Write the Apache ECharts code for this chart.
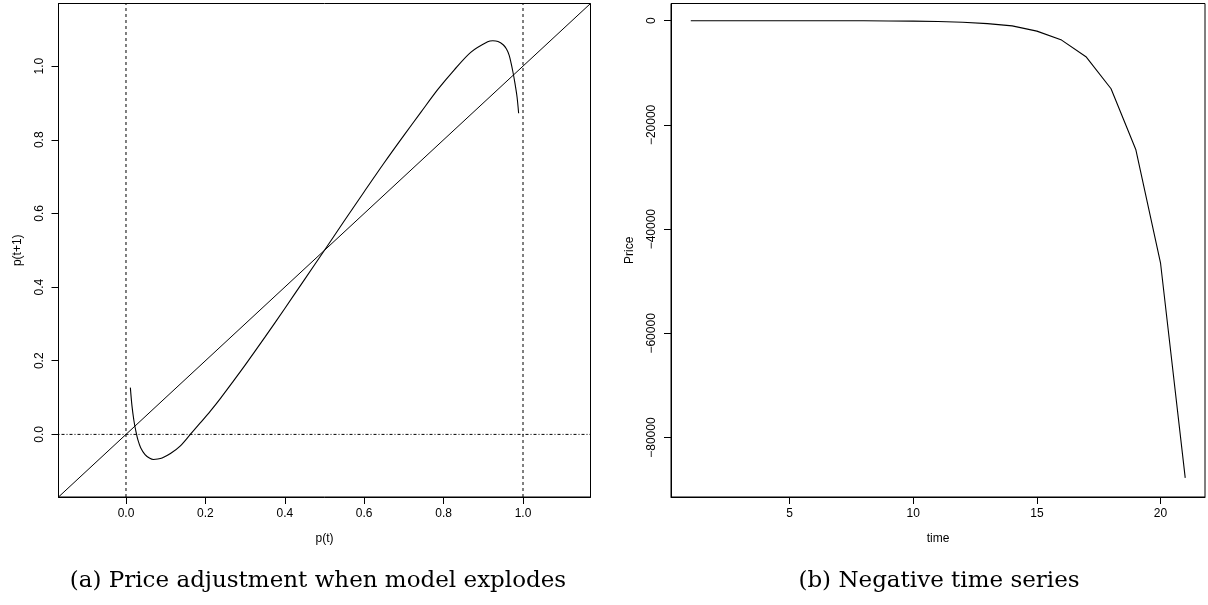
<!DOCTYPE html>
<html>
<head>
<meta charset="utf-8">
<script src="https://cdn.jsdelivr.net/npm/echarts@6/dist/echarts.min.js"></script>
<style>
  html, body { margin: 0; padding: 0; background: #fff; }
  #chart { width: 1208px; height: 605px; }
</style>
</head>
<body>
<div id="chart"></div>
<script>
// ---------- Panel (a): price adjustment map ----------
const pT = [0.011, 0.015, 0.020, 0.025, 0.030, 0.037, 0.048, 0.060, 0.069, 0.080, 0.091, 0.112, 0.137, 0.162, 0.187, 0.213, 0.238, 0.270, 0.300, 0.350, 0.400, 0.450, 0.500, 0.550, 0.600, 0.650, 0.700, 0.743, 0.785, 0.827, 0.869, 0.911, 0.924, 0.937, 0.950, 0.958, 0.965, 0.970, 0.975, 0.979, 0.985, 0.989];
const pT1 = [0.127, 0.078, 0.037, 0.008, -0.015, -0.036, -0.055, -0.065, -0.068, -0.067, -0.064, -0.052, -0.031, 0.000, 0.031, 0.064, 0.098, 0.144, 0.188, 0.264, 0.342, 0.421, 0.500, 0.580, 0.659, 0.737, 0.812, 0.875, 0.936, 0.990, 1.038, 1.066, 1.069, 1.067, 1.058, 1.047, 1.030, 1.008, 0.982, 0.958, 0.916, 0.872];
const aRange = [-0.17, 1.17];
const aTicks = [0.0, 0.2, 0.4, 0.6, 0.8, 1.0];
const aVLines = [0, 1];      // dashed verticals
const aHLines = [0];         // dot-dash horizontal

// ---------- Panel (b): negative time series ----------
const time = [1, 2, 3, 4, 5, 6, 7, 8, 9, 10, 11, 12, 13, 14, 15, 16, 17, 18, 19, 20, 21];
const price = [-0.3, -0.5, -1, -2, -4, -7, -13, -24, -45, -85, -160, -300, -560, -1000, -2000, -3720, -6980, -13060, -24710, -46460, -87740];
const bXRange = [0.2, 21.8];
const bYRange = [-91400, 3300];
const bXTicks = [5, 10, 15, 20];
const bYTicks = [-80000, -60000, -40000, -20000, 0];

const captions = ['(a) Price adjustment when model explodes', '(b) Negative time series'];

const fmtA = v => v.toFixed(1);
const fmtB = v => (v < 0 ? '\u2212' + Math.abs(v) : String(v));

const sans = 'Liberation Sans, Arial, Helvetica, sans-serif';
const black = '#000';

function axisCommon(range, ticks, fmt, rotate, margin, name, nameGap) {
  return {
    type: 'value',
    min: range[0],
    max: range[1],
    name: name,
    nameLocation: 'middle',
    nameGap: nameGap,
    nameTextStyle: { fontFamily: sans, fontSize: 12, color: black },
    splitLine: { show: false },
    axisLine: { show: true, onZero: false, lineStyle: { color: black, width: 1 } },
    axisTick: { show: true, inside: false, length: 7, lineStyle: { color: black, width: 1 }, customValues: ticks },
    axisLabel: { show: true, customValues: ticks, formatter: fmt, rotate: rotate, margin: margin,
                 fontFamily: sans, fontSize: 12, color: black }
  };
}

const gridA = { left: 58.5, top: 3.5, width: 532, height: 493.5, show: true, borderColor: black, borderWidth: 1, backgroundColor: 'transparent' };
const gridB = { left: 671, top: 3.5, width: 534, height: 493.5, show: true, borderColor: black, borderWidth: 1, backgroundColor: 'transparent' };

const series = [];
// diagonal p(t+1) = p(t)
series.push({
  type: 'line', xAxisIndex: 0, yAxisIndex: 0, symbol: 'none', silent: true, clip: true,
  data: [[aRange[0], aRange[0]], [aRange[1], aRange[1]]],
  lineStyle: { color: black, width: 1 }
});
aVLines.forEach(v => series.push({
  type: 'line', xAxisIndex: 0, yAxisIndex: 0, symbol: 'none', silent: true,
  data: [[v, aRange[0]], [v, aRange[1]]],
  lineStyle: { color: black, width: 1, type: [3, 3] }
}));
aHLines.forEach(v => series.push({
  type: 'line', xAxisIndex: 0, yAxisIndex: 0, symbol: 'none', silent: true,
  data: [[aRange[0], v], [aRange[1], v]],
  lineStyle: { color: black, width: 1, type: [1, 2, 3, 2] }
}));
series.push({
  type: 'line', xAxisIndex: 0, yAxisIndex: 0, symbol: 'none', silent: true, smooth: 0.3,
  data: pT.map((x, i) => [x, pT1[i]]),
  lineStyle: { color: black, width: 1.1 }
});
series.push({
  type: 'line', xAxisIndex: 1, yAxisIndex: 1, symbol: 'none', silent: true,
  data: time.map((t, i) => [t, price[i]]),
  lineStyle: { color: black, width: 1.1 }
});

const option = {
  animation: false,
  backgroundColor: '#fff',
  title: [
    { text: captions[0], left: 313, top: 565, textAlign: 'center',
      textStyle: { fontFamily: 'DejaVu Serif', fontWeight: 'normal', fontSize: 23, color: black } },
    { text: captions[1], left: 934, top: 565, textAlign: 'center',
      textStyle: { fontFamily: 'DejaVu Serif', fontWeight: 'normal', fontSize: 23, color: black } }
  ],
  grid: [gridA, gridB],
  xAxis: [
    Object.assign(axisCommon(aRange, aTicks, fmtA, 0, 11, 'p(t)', 36), { gridIndex: 0, position: 'bottom' }),
    Object.assign(axisCommon(bXRange, bXTicks, fmtB, 0, 11, 'time', 36), { gridIndex: 1, position: 'bottom' })
  ],
  yAxis: [
    Object.assign(axisCommon(aRange, aTicks, fmtA, 90, 13, 'p(t+1)', 35), { gridIndex: 0, position: 'left' }),
    Object.assign(axisCommon(bYRange, bYTicks, fmtB, 90, 13, 'Price', 35), { gridIndex: 1, position: 'left' })
  ],
  series: series
};

const chart = echarts.init(document.getElementById('chart'), null, { renderer: 'canvas' });
chart.setOption(option);
</script>
</body>
</html>
